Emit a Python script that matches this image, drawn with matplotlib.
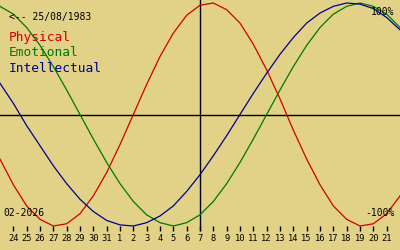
import matplotlib
matplotlib.use("Agg")
import matplotlib.pyplot as plt

# ---- data ----
# day offsets 0..30 (0 = 23 Jan 2026, 15 = 7 Feb 2026, 30 = 22 Feb 2026)
day_pos = list(range(31))
physical = [-0.40, -0.63, -0.82, -0.94, -1.00, -0.98, -0.89, -0.73, -0.52, -0.27,
            0.00, 0.27, 0.52, 0.73, 0.89, 0.98, 1.00, 0.94, 0.82, 0.63,
            0.40, 0.14, -0.14, -0.40, -0.63, -0.82, -0.94, -1.00, -0.98, -0.89, -0.73]
emotional = [0.97, 0.90, 0.78, 0.62, 0.43, 0.22, 0.00, -0.22, -0.43, -0.62,
             -0.78, -0.90, -0.97, -1.00, -0.97, -0.90, -0.78, -0.62, -0.43, -0.22,
             0.00, 0.22, 0.43, 0.62, 0.78, 0.90, 0.97, 1.00, 0.97, 0.90, 0.78]
intellectual = [0.28, 0.10, -0.10, -0.28, -0.46, -0.62, -0.76, -0.87, -0.95, -0.99,
                -1.00, -0.97, -0.91, -0.82, -0.69, -0.54, -0.37, -0.19, 0.00, 0.19,
                0.37, 0.54, 0.69, 0.82, 0.91, 0.97, 1.00, 0.99, 0.95, 0.87, 0.76]
tick_labels = ["24", "25", "26", "27", "28", "29", "30", "31", "1", "2", "3", "4", "5",
               "6", "7", "8", "9", "10", "11", "12", "13", "14", "15", "16", "17",
               "18", "19", "20", "21"]
tick_pos = list(range(1, len(tick_labels) + 1))
today_pos = 15
birth_text = "<-- 25/08/1983"
month_text = "02-2026"
series_names = ["Physical", "Emotional", "Intellectual"]

BG = "#e1d287"
RED = "#d00000"
GREEN = "#007800"
BLUE = "#000090"
MONO = "DejaVu Sans Mono"

W, H = 400, 250
fig = plt.figure(figsize=(4, 2.5), dpi=100, facecolor=BG)
ax = fig.add_axes([0, 0, 1, 1])
ax.set_facecolor(BG)
for s in ax.spines.values():
    s.set_visible(False)
ax.set_xticks([])
ax.set_yticks([])

cy, amp = 114.5, 111.5  # pixel centre / amplitude
ax.set_xlim(0, 30)
ax.set_ylim(-(H - cy) / amp, cy / amp)

def py(p):
    return (cy - p) / amp

ax.axhline(0, color="black", lw=1.0, zorder=2)
ax.plot([today_pos, today_pos], [py(0), py(230)], color="black", lw=1.0, zorder=2)

ax.plot(day_pos, physical, color=RED, lw=0.9, zorder=3)
ax.plot(day_pos, emotional, color=GREEN, lw=0.9, zorder=3)
ax.plot(day_pos, intellectual, color=BLUE, lw=0.9, zorder=3)

ax.vlines(tick_pos, py(225.5), py(231), color="black", lw=1.0, zorder=2)
for p, lab in zip(tick_pos, tick_labels):
    ax.text(p, py(238), lab, ha="center", va="center", family=MONO,
            fontsize=6.3, color="black")

def ftext(x, y, s, **kw):
    fig.text(x / W, 1 - y / H, s, family=MONO, zorder=5, **kw)

ftext(9, 17, birth_text, fontsize=7, va="center", ha="left", color="black")
for name, col, yy in zip(series_names, [RED, GREEN, BLUE], [38, 53, 68]):
    ftext(9, yy, name, fontsize=9.3, va="center", ha="left", color=col)
ftext(394, 12, "100%", fontsize=7, va="center", ha="right", color="black")
ftext(395, 212.5, "-100%", fontsize=7, va="center", ha="right", color="black")
ftext(3, 212.5, month_text, fontsize=7, va="center", ha="left", color="black")

fig.savefig("out.png", dpi=100, facecolor=BG)
